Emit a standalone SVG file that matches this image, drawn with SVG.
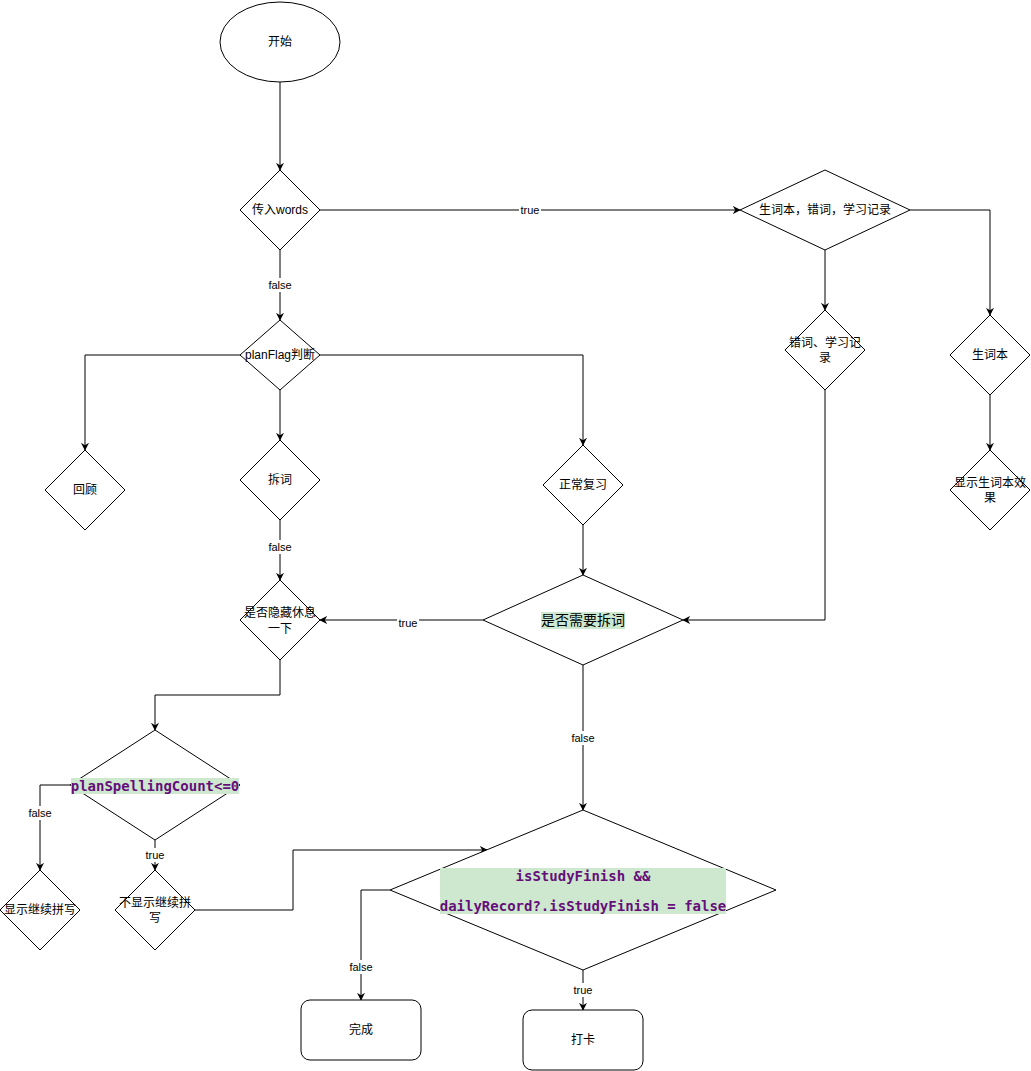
<svg xmlns="http://www.w3.org/2000/svg" width="1031" height="1071" viewBox="0 0 1031 1071">
<style>
.s{fill:#fff;stroke:#000;stroke-width:1}
.e{fill:none;stroke:#000;stroke-width:1}
.t{font-family:"Liberation Sans","Noto Sans CJK SC",sans-serif;font-size:12px;fill:#000;text-anchor:middle;dominant-baseline:central}
.l{font-family:"Liberation Sans","Noto Sans CJK SC",sans-serif;font-size:11px;fill:#000;text-anchor:middle;dominant-baseline:central}
.lb{fill:#fff}
.c{font-family:"DejaVu Sans Mono","Liberation Mono",monospace;font-size:14px;font-weight:bold;fill:#660e7a;text-anchor:middle;dominant-baseline:central}
.hl{fill:#cde8cf}
</style>
<defs>
<marker id="a" viewBox="0 0 10 10" refX="9" refY="5" markerWidth="8" markerHeight="8" orient="auto" markerUnits="userSpaceOnUse">
<path d="M0,0 L10,5 L0,10 L3,5 Z" fill="#000"/>
</marker>
</defs>
<rect width="1031" height="1071" fill="#fff"/>
<g id="connectors">
<path class="e" d="M280,82 V170" marker-end="url(#a)"/>
<path class="e" d="M320,210 H740" marker-end="url(#a)"/>
<path class="e" d="M280,250 V320" marker-end="url(#a)"/>
<path class="e" d="M240,355 H85 V450" marker-end="url(#a)"/>
<path class="e" d="M280,390 V440" marker-end="url(#a)"/>
<path class="e" d="M320,355 H583 V445" marker-end="url(#a)"/>
<path class="e" d="M280,520 V580" marker-end="url(#a)"/>
<path class="e" d="M583,525 V575" marker-end="url(#a)"/>
<path class="e" d="M483,620 H320" marker-end="url(#a)"/>
<path class="e" d="M825,250 V310" marker-end="url(#a)"/>
<path class="e" d="M825,390 V620 H683" marker-end="url(#a)"/>
<path class="e" d="M910,210 H990 V315" marker-end="url(#a)"/>
<path class="e" d="M990,395 V450" marker-end="url(#a)"/>
<path class="e" d="M280,660 V695 H155 V730" marker-end="url(#a)"/>
<path class="e" d="M70,785 H40 V870" marker-end="url(#a)"/>
<path class="e" d="M155,840 V870" marker-end="url(#a)"/>
<path class="e" d="M195,910 H293 V850 H487" marker-end="url(#a)"/>
<path class="e" d="M583,665 V810" marker-end="url(#a)"/>
<path class="e" d="M390,890 H361 V1000" marker-end="url(#a)"/>
<path class="e" d="M583,970 V1010" marker-end="url(#a)"/>
<rect class="lb" x="519" y="203" width="22" height="14"/><text class="l" x="530" y="210">true</text>
<rect class="lb" x="267" y="278" width="26" height="14"/><text class="l" x="280" y="285">false</text>
<rect class="lb" x="267" y="540" width="26" height="14"/><text class="l" x="280" y="547">false</text>
<rect class="lb" x="397" y="616" width="22" height="14"/><text class="l" x="408" y="623">true</text>
<rect class="lb" x="570" y="731" width="26" height="14"/><text class="l" x="583" y="738">false</text>
<rect class="lb" x="27" y="806" width="26" height="14"/><text class="l" x="40" y="813">false</text>
<rect class="lb" x="144" y="848" width="22" height="14"/><text class="l" x="155" y="855">true</text>
<rect class="lb" x="348" y="960" width="26" height="14"/><text class="l" x="361" y="967">false</text>
<rect class="lb" x="572" y="983" width="22" height="14"/><text class="l" x="583" y="990">true</text>
</g>
<g id="start"><ellipse class="s" cx="280" cy="42" rx="60" ry="40"/><text class="t" x="280" y="42">开始</text></g>
<g id="words"><path class="s" d="M280,170 L320,210 L280,250 L240,210 Z"/><text class="t" x="280" y="210">传入words</text></g>
<g id="types"><path class="s" d="M825,170 L910,210 L825,250 L740,210 Z"/><text class="t" x="825" y="210">生词本，错词，学习记录</text></g>
<g id="planFlag"><path class="s" d="M280,320 L320,355 L280,390 L240,355 Z"/><text class="t" x="280" y="355">planFlag判断</text></g>
<g id="review"><path class="s" d="M85,450 L125,490 L85,530 L45,490 Z"/><text class="t" x="85" y="490">回顾</text></g>
<g id="split"><path class="s" d="M280,440 L320,480 L280,520 L240,480 Z"/><text class="t" x="280" y="480">拆词</text></g>
<g id="normal"><path class="s" d="M583,445 L623,485 L583,525 L543,485 Z"/><text class="t" x="583" y="485">正常复习</text></g>
<g id="hideRest"><path class="s" d="M280,580 L320,620 L280,660 L240,620 Z"/><text class="t" x="280" y="613">是否隐藏休息</text><text class="t" x="280" y="629">一下</text></g>
<g id="needSplit"><path class="s" d="M583,575 L683,620 L583,665 L483,620 Z"/><rect class="hl" x="541" y="612" width="84" height="17"/><text class="t" style="font-size:14px" x="583" y="620">是否需要拆词</text></g>
<g id="wrongRecord"><path class="s" d="M825,310 L865,350 L825,390 L785,350 Z"/><text class="t" x="825" y="343">错词、学习记</text><text class="t" x="825" y="358">录</text></g>
<g id="vocab"><path class="s" d="M990,315 L1030,355 L990,395 L950,355 Z"/><text class="t" x="990" y="355">生词本</text></g>
<g id="vocabEffect"><path class="s" d="M990,450 L1030,490 L990,530 L950,490 Z"/><text class="t" x="990" y="483">显示生词本效</text><text class="t" x="990" y="498">果</text></g>
<g id="spellCount"><path class="s" d="M155,730 L240,785 L155,840 L70,785 Z"/><rect class="hl" x="71" y="778" width="168" height="16"/><text class="c" x="155" y="786">planSpellingCount&lt;=0</text></g>
<g id="showSpell"><path class="s" d="M40,870 L80,910 L40,950 L0,910 Z"/><text class="t" x="40" y="910">显示继续拼写</text></g>
<g id="hideSpell"><path class="s" d="M155,870 L195,910 L155,950 L115,910 Z"/><text class="t" x="155" y="903">不显示继续拼</text><text class="t" x="155" y="918">写</text></g>
<g id="studyFinish"><path class="s" d="M583,810 L776,890 L583,970 L390,890 Z"/><rect class="hl" x="440" y="868" width="286" height="46"/><text class="c" x="583" y="876">isStudyFinish &amp;&amp;</text><text class="c" x="583" y="906">dailyRecord?.isStudyFinish = false</text></g>
<g id="done"><rect class="s" x="301" y="1000" width="120" height="60" rx="9"/><text class="t" x="361" y="1030">完成</text></g>
<g id="checkin"><rect class="s" x="523" y="1010" width="120" height="60" rx="9"/><text class="t" x="583" y="1040">打卡</text></g>
</svg>
